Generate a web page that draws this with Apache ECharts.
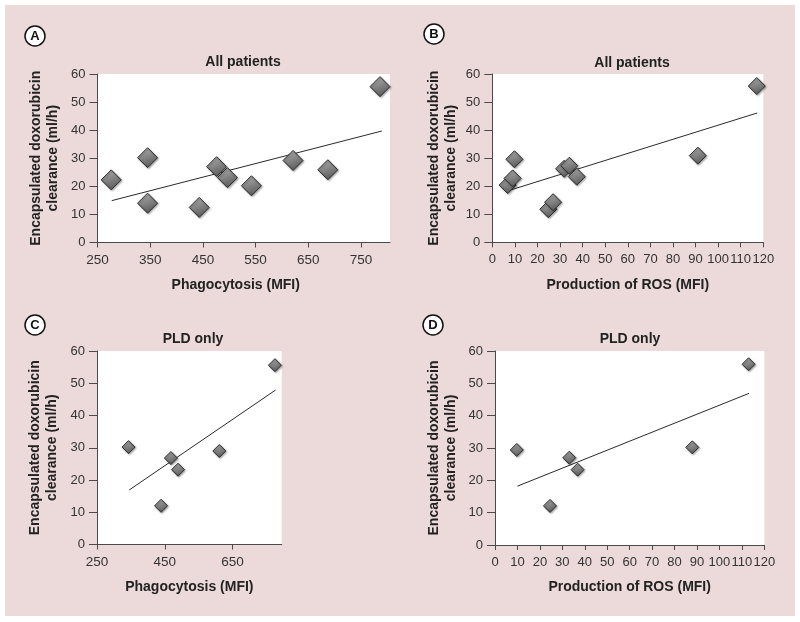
<!DOCTYPE html>
<html>
<head>
<meta charset="utf-8">
<script src="https://cdn.jsdelivr.net/npm/echarts@6/dist/echarts.min.js"></script>
<style>
  html, body { margin: 0; padding: 0; background: #ffffff; }
  #bg { position: absolute; left: 5px; top: 5px; width: 790px; height: 611px; background: #ecdada; }
  #chart { position: absolute; left: 0; top: 0; width: 800px; height: 622px; }
</style>
</head>
<body>
<div id="bg"></div>
<div id="chart"></div>
<script>
// ---- Data ----
// Panel A: all patients, phagocytosis vs clearance
const phagoAllX = [276, 345, 345, 443, 476, 496.5, 542, 621, 687, 786];
const phagoAllY = [22.3, 30.2, 14.0, 12.5, 27.0, 23.1, 20.2, 29.2, 25.9, 55.5];
const phagoAllTrendX = [277, 789.5];
const phagoAllTrendY = [14.9, 39.7];

// Panel B: all patients, ROS vs clearance
const rosAllX = [6.8, 9.0, 9.8, 24.8, 26.9, 31.8, 34.1, 37.4, 91.0, 117.1];
const rosAllY = [20.4, 22.8, 29.6, 11.8, 14.3, 26.2, 27.3, 23.4, 30.9, 55.7];
const rosAllTrendX = [7.1, 117.3];
const rosAllTrendY = [18.4, 46.1];

// Panel C: PLD only, phagocytosis vs clearance
const phagoPldX = [343, 439, 468, 489, 611, 775];
const phagoPldY = [30.2, 12.0, 26.8, 23.2, 29.0, 55.6];
const phagoPldTrendX = [345, 777];
const phagoPldTrendY = [16.9, 47.9];

// Panel D: PLD only, ROS vs clearance
const rosPldX = [9.7, 24.5, 33.1, 36.8, 87.9, 113.0];
const rosPldY = [29.4, 12.1, 27.0, 23.3, 30.2, 55.9];
const rosPldTrendX = [10.0, 113.2];
const rosPldTrendY = [18.2, 46.9];

// Tick labels
const yTicks = [0, 10, 20, 30, 40, 50, 60];
const phagoTicksA = [250, 350, 450, 550, 650, 750];
const phagoTicksC = [250, 450, 650];
const rosTicks = [0, 10, 20, 30, 40, 50, 60, 70, 80, 90, 100, 110, 120];

const panelTitles = ['All patients', 'All patients', 'PLD only', 'PLD only'];
const panelLetters = ['A', 'B', 'C', 'D'];
const xNames = ['Phagocytosis (MFI)', 'Production of ROS (MFI)', 'Phagocytosis (MFI)', 'Production of ROS (MFI)'];
const yName = 'Encapsulated doxorubicin\nclearance (ml/h)';

// ---- Build ----
const zip = (xs, ys) => xs.map((x, i) => [x, ys[i]]);
const FONT = 'Liberation Sans, Arial, sans-serif';

const grids = [
  { left: 97.5, top: 74, width: 292.5, height: 168.5 },
  { left: 492.3, top: 74, width: 271, height: 168.3 },
  { left: 97, top: 351, width: 184.7, height: 193.5 },
  { left: 495, top: 351, width: 269.3, height: 194 }
];
const titleCenters = [[238, 50], [627, 51], [188, 327], [625, 327]];
const letterCenters = [[35, 36], [434, 34], [35, 325], [433, 325]];
const yNameGaps = [36, 33, 36, 35];
const markerSizes = [20, 17, 13, 13];

const axisLineStyle = { color: '#4a4a4a', width: 1 };
const labelStyle = { color: '#333', fontSize: 13.5, fontFamily: FONT };
const nameStyle = { color: '#222', fontSize: 14, fontWeight: 'bold', fontFamily: FONT, lineHeight: 17 };

const xAxes = [
  { min: 250, max: 805, ticks: phagoTicksA, pad: [0, 16, 0, 0], fs: 13.5 },
  { min: 0, max: 120, ticks: rosTicks, pad: 0, fs: 13 },
  { min: 250, max: 795, ticks: phagoTicksC, pad: 0, fs: 13.5 },
  { min: 0, max: 120, ticks: rosTicks, pad: 0, fs: 13 }
].map((a, i) => ({
  type: 'value', gridIndex: i, min: a.min, max: a.max,
  interval: i % 2 === 1 ? 10 : 50,
  name: xNames[i], nameLocation: 'middle', nameGap: 34,
  nameTextStyle: Object.assign({}, nameStyle, { padding: a.pad }),
  axisLine: { show: true, lineStyle: axisLineStyle },
  axisTick: { show: true, length: 5, lineStyle: axisLineStyle, customValues: a.ticks },
  axisLabel: Object.assign({ margin: 11, customValues: a.ticks, showMaxLabel: true, showMinLabel: true, hideOverlap: false }, labelStyle, { fontSize: a.fs }),
  splitLine: { show: false }
}));

const yAxes = grids.map((g, i) => ({
  type: 'value', gridIndex: i, min: 0, max: 60, interval: 10,
  name: yName, nameLocation: 'middle', nameGap: yNameGaps[i],
  nameTextStyle: nameStyle,
  axisLine: { show: true, lineStyle: axisLineStyle },
  axisTick: { show: true, length: 8, lineStyle: axisLineStyle },
  axisLabel: Object.assign({ margin: 12 }, labelStyle, { fontSize: 13 }),
  splitLine: { show: false }
}));

const pointSets = [
  zip(phagoAllX, phagoAllY), zip(rosAllX, rosAllY),
  zip(phagoPldX, phagoPldY), zip(rosPldX, rosPldY)
];
const trendSets = [
  zip(phagoAllTrendX, phagoAllTrendY), zip(rosAllTrendX, rosAllTrendY),
  zip(phagoPldTrendX, phagoPldTrendY), zip(rosPldTrendX, rosPldTrendY)
];

const series = [];
pointSets.forEach((pts, i) => {
  series.push({
    type: 'line', xAxisIndex: i, yAxisIndex: i, data: trendSets[i],
    symbol: 'none', lineStyle: { color: '#2a2a2a', width: 1 }, z: 2, silent: true
  });
  series.push({
    type: 'scatter', xAxisIndex: i, yAxisIndex: i, data: pts,
    symbol: 'diamond', symbolSize: markerSizes[i], z: 3,
    itemStyle: {
      color: new echarts.graphic.LinearGradient(0, 0, 0.4, 1, [
        { offset: 0, color: '#b8b8b8' },
        { offset: 0.5, color: '#8a8a8a' },
        { offset: 1, color: '#5e5e5e' }
      ]),
      borderColor: '#2e2e2e', borderWidth: 1,
      shadowColor: 'rgba(0,0,0,0.35)', shadowBlur: 2, shadowOffsetX: 1, shadowOffsetY: 1,
      opacity: 1
    }
  });
});

const titles = panelTitles.map((t, i) => ({
  text: t, left: titleCenters[i][0], top: titleCenters[i][1], textAlign: 'center',
  textStyle: { fontSize: 14, fontWeight: 'bold', color: '#222', fontFamily: FONT }
}));

const graphics = [];
letterCenters.forEach((c, i) => {
  graphics.push({
    type: 'circle', shape: { cx: c[0], cy: c[1], r: 10 },
    style: { fill: '#fff', stroke: '#111', lineWidth: 1.5 }, z: 10
  });
  graphics.push({
    type: 'text', x: c[0], y: c[1] + 0.5,
    style: { text: panelLetters[i], fill: '#111', font: 'bold 13px ' + FONT, align: 'center', verticalAlign: 'middle' },
    z: 11
  });
});

const chart = echarts.init(document.getElementById('chart'), null, { renderer: 'canvas' });
chart.setOption({
  backgroundColor: 'transparent',
  animation: false,
  title: titles,
  grid: grids.map(g => Object.assign({ show: true, backgroundColor: '#ffffff', borderWidth: 0, containLabel: false }, g)),
  xAxis: xAxes,
  yAxis: yAxes,
  series: series,
  graphic: graphics
});
</script>
</body>
</html>
